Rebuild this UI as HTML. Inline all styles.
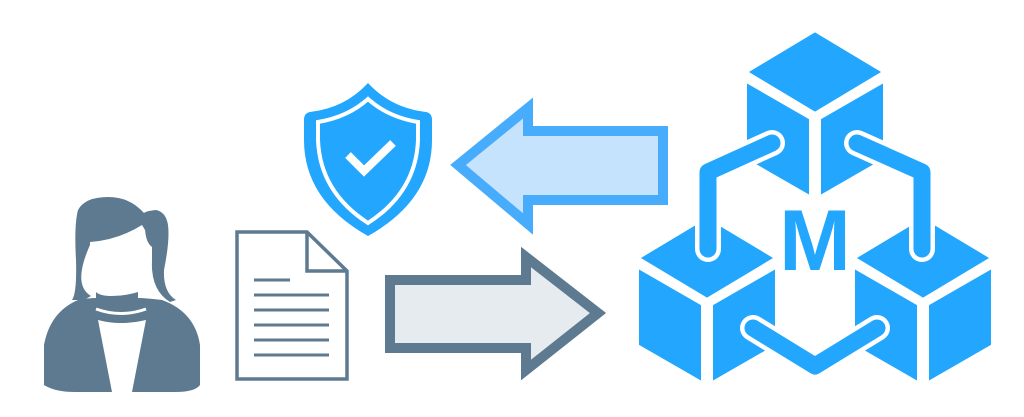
<!DOCTYPE html>
<html><head><style>html,body{margin:0;padding:0;background:#fff;width:1024px;height:417px;overflow:hidden}</style></head>
<body>
<svg width="1024" height="417" viewBox="0 0 1024 417" xmlns="http://www.w3.org/2000/svg">
<!-- person -->
<g fill="#5e7a91">
<path d="M78,300 Q50,312 44,345 L44,385 Q55,392 75,392 L112,392 L98,320 Q120,326 146,320 L132,392 L175,392 Q195,392 200,385 L200,345 Q195,312 162,300 Q145,298 138,298 L138,292 Q125,296 112,296 Q100,296 96,292 L96,298 Q88,298 78,300 Z"/>
<path d="M72,300 L84,300 L91,296 Q72,285 90,245 L90,242 Q118,240 142,225 L145,230 Q146,243 152,247 L152,258 Q150,290 170,302 L176,300 Q163,292 164,270 Q170,240 168,225 Q166,212 156,210 Q146,211 144,213 Q130,197 108,197 Q85,197 78,210 Q74,225 76,260 Q77,293 72,300 Z"/>
<path d="M90,244 L90,262 Q92,289 121,290 Q150,289 152,262 L152,247 Q146,243 145,230 Q120,245 90,244 Z" fill="#fff"/>
<path d="M96,309 Q121,318 146,309" fill="none" stroke="#fff" stroke-width="3"/>
</g>
<!-- document -->
<g fill="none" stroke="#5e7a91" stroke-width="3.5">
<path d="M237,232 L307,232 L347,271 L347,379 L237,379 Z"/>
<path d="M307,232 L307,271 L347,271"/>
<path d="M254,280 L290,280 M254,295 L329,295 M254,310 L329,310 M254,325 L329,325 M254,340 L329,340 M254,355 L329,355" stroke-width="3"/>
</g>
<!-- shield -->
<path d="M368,83 Q345,108 310,112 Q304,113 304,120 L304,140 Q304,200 368,236 Q432,200 432,140 L432,120 Q432,113 426,112 Q391,108 368,83 Z" fill="#22a6fe"/>
<path d="M368,99 Q348,117 318,122 L318,140 Q320,192 368,223 Q416,192 418,140 L418,122 Q388,117 368,99 Z" fill="none" stroke="#fff" stroke-width="4"/>
<path d="M348,155 L364,171 L393,143" fill="none" stroke="#fff" stroke-width="8"/>
<!-- arrows -->
<path d="M458,165 L528,108 L528,131 L663,131 L663,200 L528,200 L528,224 Z" fill="#c5e3fd" stroke="#47acfb" stroke-width="10"/>
<path d="M390,280 L526,280 L526,257 L598,313 L526,370 L526,348 L390,348 Z" fill="#e6ebf0" stroke="#5e7a91" stroke-width="10"/>
<!-- cubes -->
<g fill="#22a6fe" stroke="#fff" stroke-width="4" stroke-linejoin="round">
<path d="M815,30 L885,72 L815,114 L745,72 Z"/>
<path d="M745,80 L811,118 L811,198 L745,160 Z"/>
<path d="M819,118 L885,80 L885,160 L819,198 Z"/>
<path d="M707,216 L777,258 L707,300 L637,258 Z"/>
<path d="M637,266 L703,304 L703,384 L637,346 Z"/>
<path d="M711,304 L777,266 L777,346 L711,384 Z"/>
<path d="M923,216 L993,258 L923,300 L853,258 Z"/>
<path d="M853,266 L919,304 L919,384 L853,346 Z"/>
<path d="M927,304 L993,266 L993,346 L927,384 Z"/>
</g>
<g fill="none" stroke-linecap="round" stroke-linejoin="round">
<g stroke="#ffffff" stroke-width="26">
<path d="M772,143 L708,172 L708,249"/>
<path d="M857,143 L922,172 L922,249"/>
<path d="M753,328 L815,366 L877,328"/>
</g>
<g stroke="#22a6fe" stroke-width="17">
<path d="M772,143 L708,172 L708,249"/>
<path d="M857,143 L922,172 L922,249"/>
<path d="M753,328 L815,366 L877,328"/>
</g>
</g>
<text x="815" y="270" text-anchor="middle" font-family="Liberation Sans, sans-serif" font-weight="bold" font-size="86" fill="#22a6fe">M</text>
</svg>
</body></html>
